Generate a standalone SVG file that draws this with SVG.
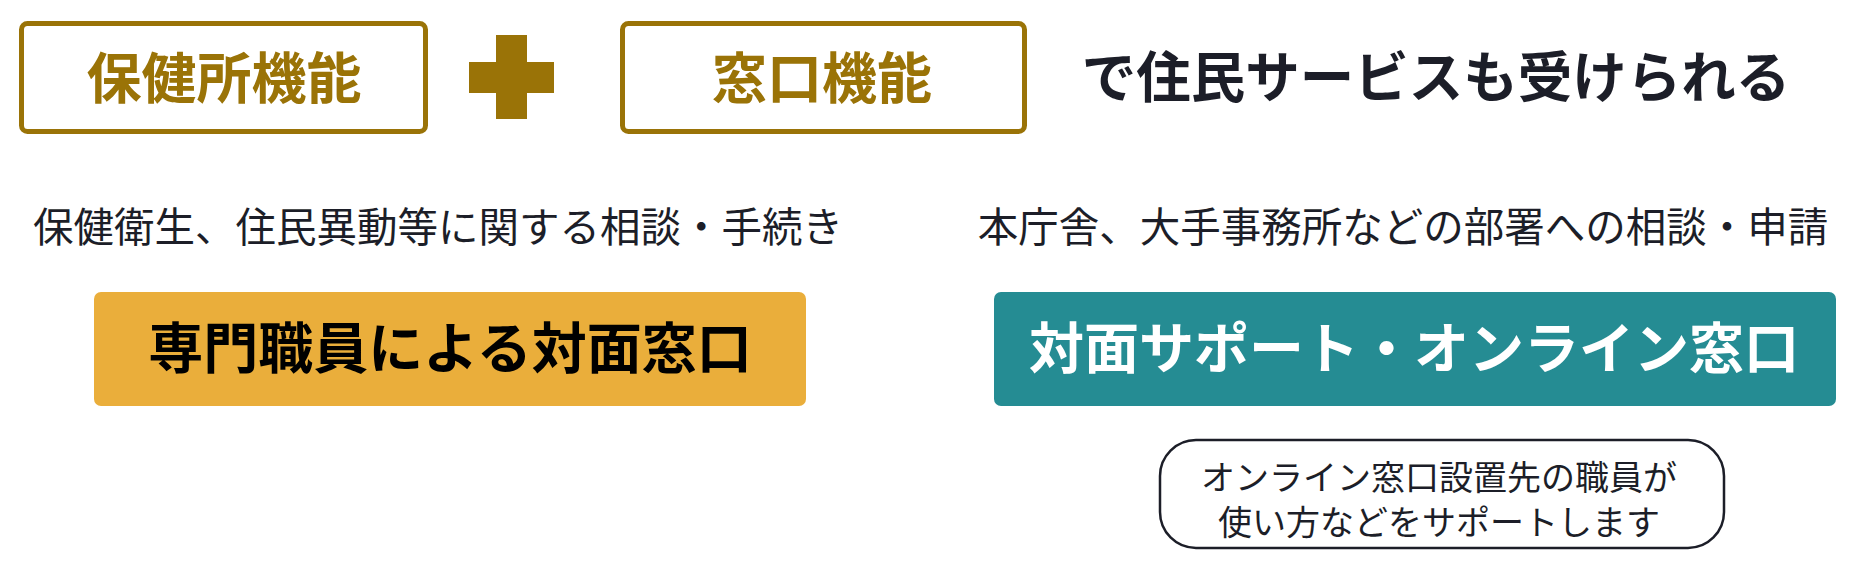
<svg xmlns="http://www.w3.org/2000/svg" width="1855" height="573" viewBox="0 0 1855 573">
<style>
text{font-family:"Noto Sans CJK JP","Noto Sans",sans-serif;text-anchor:middle}
.fbox{fill:#fff;stroke:#9a7307;stroke-width:5}
.ftxt{font-size:55px;font-weight:700;fill:#9a7307}
.head{font-size:54.5px;font-weight:700;fill:#1c1e28}
.desc{font-size:40.5px;font-weight:400;fill:#1c1e28}
.btxt{font-size:55px;font-weight:700}
.note{font-size:34px;font-weight:400;fill:#1c1e28}
</style>
<rect width="1855" height="573" fill="#fff"/>
<g id="node-hokenjo">
<rect class="fbox" x="21.5" y="23.5" width="404" height="108" rx="6"/>
<text class="ftxt" x="224" y="98">保健所機能</text>
</g>
<g id="node-plus">
<rect x="496" y="35" width="31" height="84" fill="#9a7307"/>
<rect x="469" y="62" width="85" height="31" fill="#9a7307"/>
</g>
<g id="node-madoguchi">
<rect class="fbox" x="622.5" y="23.5" width="402" height="108" rx="6"/>
<text class="ftxt" x="822" y="98">窓口機能</text>
</g>
<g id="node-heading">
<text class="head" x="1436" y="97">で住民サービスも受けられる</text>
</g>
<g id="node-desc-left">
<text class="desc" x="438" y="242">保健衛生、住民異動等に関する相談・手続き</text>
</g>
<g id="node-desc-right">
<text class="desc" x="1403" y="242">本庁舎、大手事務所などの部署への相談・申請</text>
</g>
<g id="node-taimen">
<rect x="94" y="292" width="712" height="114" rx="7" fill="#eaae3b"/>
<text class="btxt" x="450" y="368" fill="#000">専門職員による対面窓口</text>
</g>
<g id="node-online">
<rect x="994" y="292" width="842" height="114" rx="7" fill="#258c93"/>
<text class="btxt" x="1414" y="368" fill="#fff">対面サポート・オンライン窓口</text>
</g>
<g id="node-note">
<rect x="1160" y="440" width="564" height="108" rx="36" fill="#fff" stroke="#1c1e28" stroke-width="2.5"/>
<text class="note" x="1439" y="490">オンライン窓口設置先の職員が</text>
<text class="note" x="1439" y="535">使い方などをサポートします</text>
</g>
<g id="connectors"></g>
</svg>
